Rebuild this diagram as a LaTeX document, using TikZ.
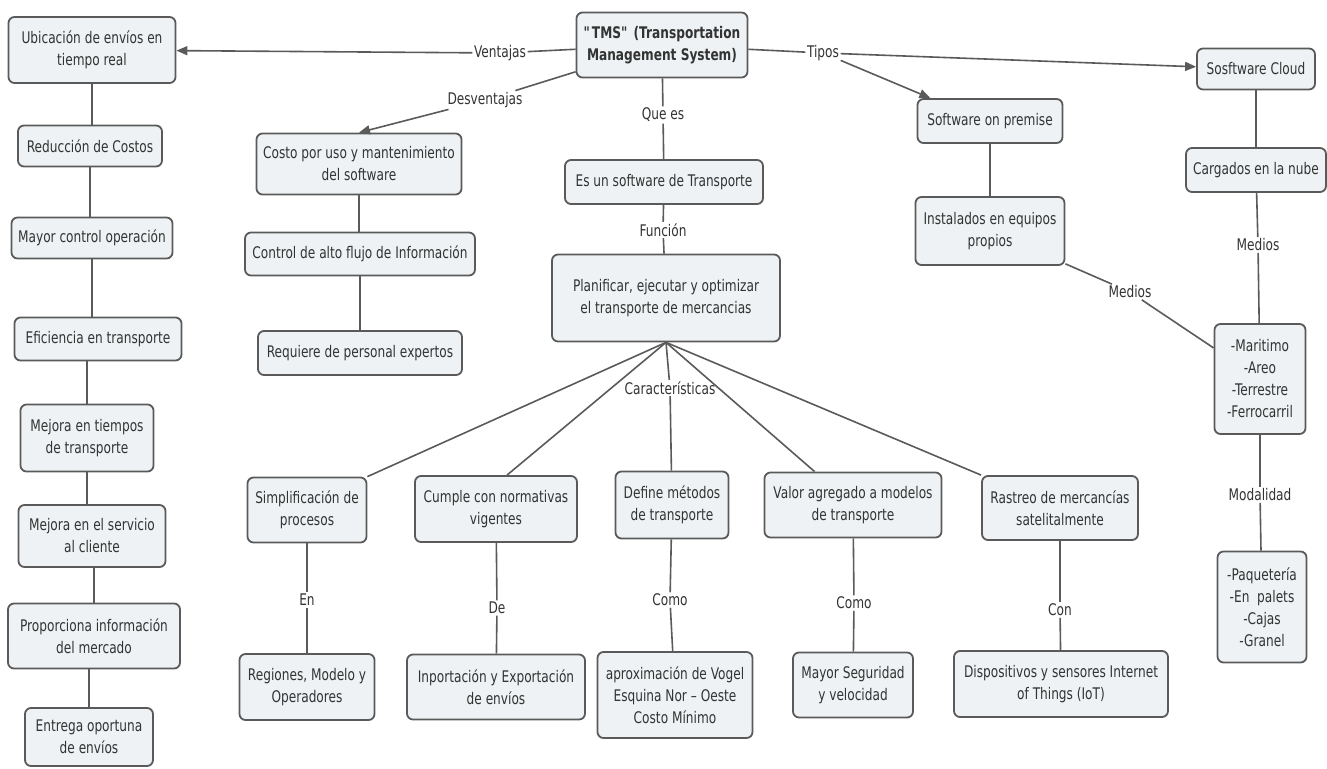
\documentclass[tikz,border=0pt]{standalone}
\usepackage{fontspec}
\setmainfont{DejaVu Sans}[FakeStretch=0.76]
\usetikzlibrary{arrows.meta}
\definecolor{boxfill}{HTML}{EEF2F4}
\definecolor{boxline}{HTML}{5A5A5A}
\definecolor{ink}{HTML}{333333}
\begin{document}
\begin{tikzpicture}[x=1pt,y=-1pt,
  box/.style={draw=boxline, fill=boxfill, line width=1.8pt, rounded corners=6pt,
    align=center, text=ink, font=\fontsize{16}{22}\selectfont, inner sep=2pt},
  lbl/.style={fill=white, text=ink, inner sep=1.5pt, font=\fontsize{16}{22}\selectfont},
  conn/.style={draw=boxline, line width=1.6pt},
  arr/.style={-{Triangle[length=11pt,width=9pt]}}]
\useasboundingbox (0,0) rectangle (1327,768);

% ---------- central concept ----------
\node[box, minimum width=171, minimum height=65] (tms) at (662,45)
  {\bfseries \textquotedbl TMS\textquotedbl\ (Transportation\\\bfseries Management System)};
\node[box, minimum width=198, minimum height=44] (esun) at (664,182) {Es un software de Transporte};
\node[box, minimum width=228, minimum height=87] (plan) at (666,298)
  {Planificar, ejecutar y optimizar\\el transporte de mercancias};

% ---------- advantages column ----------
\node[box, minimum width=167, minimum height=66] (ubic) at (92,50) {Ubicación de envíos en\\tiempo real};
\node[box, minimum width=144, minimum height=41] (redu) at (90,146) {Reducción de Costos};
\node[box, minimum width=161, minimum height=41] (mayor) at (92,238) {Mayor control operación};
\node[box, minimum width=167, minimum height=43] (efic) at (98,339) {Eficiencia en transporte};
\node[box, minimum width=133, minimum height=67] (mejt) at (87,438) {Mejora en tiempos\\de transporte};
\node[box, minimum width=147, minimum height=62] (mejs) at (92,536) {Mejora en el servicio\\al cliente};
\node[box, minimum width=172, minimum height=65] (prop) at (94,636) {Proporciona información\\del mercado};
\node[box, minimum width=128, minimum height=58] (entr) at (89,737) {Entrega oportuna\\de envíos};

% ---------- disadvantages ----------
\node[box, minimum width=205, minimum height=61] (costo) at (359,164) {Costo por uso y mantenimiento\\del software};
\node[box, minimum width=230, minimum height=43] (ctrl) at (360,254) {Control de alto flujo de Información};
\node[box, minimum width=204, minimum height=44] (req) at (360,353) {Requiere de personal expertos};

% ---------- types ----------
\node[box, minimum width=145, minimum height=44] (prem) at (990,121) {Software on premise};
\node[box, minimum width=149, minimum height=68] (inst) at (990,231) {Instalados en equipos\\propios};
\node[box, minimum width=118, minimum height=41] (cloud) at (1256,69) {Sosftware Cloud};
\node[box, minimum width=140, minimum height=44] (carg) at (1256,170) {Cargados en la nube};
\node[box, minimum width=91, minimum height=110] (mar) at (1260,379) {-Maritimo\\-Areo\\-Terrestre\\-Ferrocarril};
\node[box, minimum width=89, minimum height=111] (paq) at (1262,607) {-Paquetería\\-En\ \ palets\\-Cajas\\-Granel};

% ---------- characteristics ----------
\node[box, minimum width=119, minimum height=65] (simp) at (307,510) {Simplificación de\\procesos};
\node[box, minimum width=162, minimum height=66] (cumple) at (496,509) {Cumple con normativas\\vigentes};
\node[box, minimum width=113, minimum height=67] (define) at (672,505) {Define métodos\\de transporte};
\node[box, minimum width=177, minimum height=65] (valor) at (853,505) {Valor agregado a modelos\\de transporte};
\node[box, minimum width=156, minimum height=64] (rast) at (1060,508) {Rastreo de mercancías\\satelitalmente};

\node[box, minimum width=135, minimum height=66] (reg) at (307,687) {Regiones, Modelo y\\Operadores};
\node[box, minimum width=178, minimum height=65] (inp) at (496,687) {Inportación y Exportación\\de envíos};
\node[box, minimum width=155, minimum height=86] (aprox) at (675,695) {aproximación de Vogel\\Esquina Nor – Oeste\\Costo Mínimo};
\node[box, minimum width=120, minimum height=65] (seg) at (853,685) {Mayor Seguridad\\y velocidad};
\node[box, minimum width=214, minimum height=66] (disp) at (1061,684) {Dispositivos y sensores Internet\\of Things (IoT)};

% ---------- link labels ----------
\node[lbl] (lvent) at (500,53) {Ventajas};
\node[lbl] (ldesv) at (485,100) {Desventajas};
\node[lbl] (ltipos) at (823,53) {Tipos};
\node[lbl] (lque) at (663,115) {Que es};
\node[lbl] (lfun) at (663,230) {Función};
\node[lbl] (lcar) at (670,388) {Características};
\node[lbl] (lmed1) at (1258,245) {Medios};
\node[lbl] (lmed2) at (1130,292) {Medios};
\node[lbl] (lmod) at (1260,495) {Modalidad};
\node[lbl] (len) at (307,600) {En};
\node[lbl] (lde) at (497,608) {De};
\node[lbl] (lcomo1) at (670,600) {Como};
\node[lbl] (lcomo2) at (854,603) {Como};
\node[lbl] (lcon) at (1060,610) {Con};

% ---------- connectors ----------
\draw[conn] (tms) -- (lvent);
\draw[conn,arr] (lvent) -- (ubic);
\draw[conn] (tms) -- (ldesv);
\draw[conn,arr] (ldesv) -- (costo.north);
\draw[conn] (tms) -- (ltipos);
\draw[conn,arr] (ltipos) -- (cloud);
\draw[conn,arr] (ltipos) -- (prem.159);
\draw[conn] (tms) -- (lque);
\draw[conn] (lque) -- (esun);
\draw[conn] (esun) -- (lfun);
\draw[conn] (lfun) -- (plan);

\draw[conn] (ubic) -- (ubic |- redu.north);
\draw[conn] (redu) -- (redu |- mayor.north);
\draw[conn] (mayor) -- (mayor |- efic.north);
\draw[conn] (mejt |- efic.south) -- (mejt);
\draw[conn] (mejt) -- (mejt |- mejs.north);
\draw[conn] (prop |- mejs.south) -- (prop);
\draw[conn] (entr |- prop.south) -- (entr);

\draw[conn] (costo) -- (costo |- ctrl.north);
\draw[conn] (ctrl) -- (ctrl |- req.north);

\draw[conn] (prem) -- (inst);
\draw[conn] (cloud) -- (carg);
\draw[conn] (carg) -- (lmed1);
\draw[conn] (lmed1) -- (mar);
\draw[conn] (inst) -- (lmed2);
\draw[conn] (lmed2) -- (mar);
\draw[conn] (mar) -- (lmod);
\draw[conn] (lmod) -- (paq);

\draw[conn] (plan.south) -- (simp.north east);
\draw[conn] (plan.south) -- (cumple.72);
\draw[conn] (plan.south) -- (lcar);
\draw[conn] (lcar) -- (define);
\draw[conn] (plan.south) -- (valor);
\draw[conn] (plan.south) -- (rast.north west);

\draw[conn] (simp) -- (len);
\draw[conn] (len) -- (reg);
\draw[conn] (cumple) -- (lde);
\draw[conn] (lde) -- (inp);
\draw[conn] (define) -- (lcomo1);
\draw[conn] (lcomo1) -- (aprox);
\draw[conn] (valor) -- (lcomo2);
\draw[conn] (lcomo2) -- (seg);
\draw[conn] (rast) -- (lcon);
\draw[conn] (lcon) -- (disp);
\end{tikzpicture}
\end{document}
